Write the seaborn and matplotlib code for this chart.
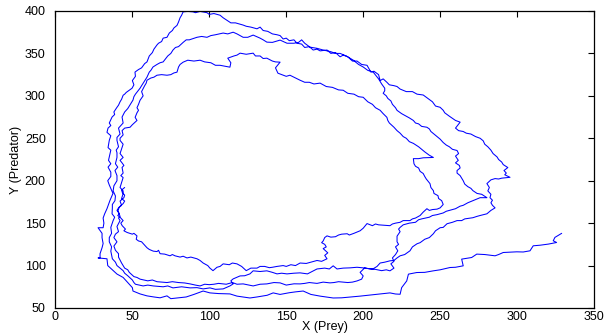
import numpy as np
import pandas as pd
import matplotlib
matplotlib.use("Agg")
import matplotlib.pyplot as plt
import seaborn as sns

start_seg = [(45.0, 192), (43, 189), (43.5, 186), (45, 183), (44.5, 180), (42.0, 176), (43.0, 171), (41.0, 168)]

cycle1 = [
    # bottom (innermost loop)
    (40, 165), (41.5, 161), (40.5, 159), (42, 157), (44, 153), (42.5, 150), (43.4, 147), (45.5, 143), (44.5, 141),
    (46.6, 139), (50, 137), (51, 138), (53, 135), (52.5, 131), (54, 129), (56, 128), (57, 126), (59.5, 121),
    (61, 119), (63.6, 117), (66, 116.5), (67, 118), (68, 114), (71, 113.5), (74.5, 111.5), (76, 113),
    (77.7, 111.5), (81, 110), (83, 111), (85.5, 109), (88, 110), (92, 108), (94, 106), (96, 103), (99, 100),
    (100.4, 97), (102.4, 94), (105, 98), (107, 99), (109, 102), (113, 101), (115, 103), (118, 102), (121, 99),
    (124, 94), (127, 97), (131, 97), (133, 99), (136, 99), (139, 97.5), (141, 98), (144, 99), (148, 100),
    (150, 99), (153, 101), (156, 100), (159, 103), (163, 102.5), (166, 104), (170, 106), (173, 105),
    (176.5, 108), (175, 112), (177, 115), (174, 120), (176, 122), (175, 125), (173, 127), (174, 129), (175, 133),
    (176.5, 135), (179, 133.5), (182, 134), (184, 136), (186, 137), (189.6, 137.5), (191, 136), (194, 138),
    (198, 141), (200, 144), (202.5, 149.5), (206, 147), (208, 149), (210, 148), (214, 147.5), (217.4, 147),
    (219, 149), (221, 150), (224, 151), (226, 153), (230.4, 153), (232, 155), (234, 156), (237, 159), (238, 161),
    (239, 163), (241.4, 167), (243, 165), (245, 166), (248, 166.5), (250, 168), (252, 172),
    # right side
    (251, 176.5), (249, 179), (248.6, 182.4), (246, 185), (245.6, 188.3), (244, 192), (243.4, 196.6), (241, 202),
    (240, 205), (239, 208.5), (237, 211), (236, 215), (234, 217), (233, 220), (232.6, 226), (236, 226),
    (239, 227), (245.6, 227.4), (243, 230), (240, 234), (238, 237), (236, 240), (232.6, 244), (230, 246),
    (228, 250), (226, 252), (224, 256), (222, 259), (220, 263), (217, 268), (216, 271), (215.4, 274.7),
    (213, 279), (211, 283),
    # top
    (208, 286), (206, 290), (203, 293), (200, 298.3), (197, 299), (194, 302), (190, 303), (187, 306.6),
    (184, 307), (180, 310), (176, 311), (172, 315), (168, 314), (165, 316), (162, 316), (159, 318.4), (155, 322),
    (152.4, 324.3), (150, 323), (147, 325), (144.6, 326.7), (143, 333), (146, 339.7), (143, 340), (141, 341),
    (137.4, 344.4), (135, 344), (133, 347), (130, 347), (128.5, 350.3), (124, 349), (120, 350.3), (118, 348),
    (116, 347), (112, 344.4), (114, 339), (113.4, 333.8), (110, 335), (107, 336), (104, 336), (101, 339),
    (97, 340), (94, 342), (90, 341), (86, 342), (83, 339.7), (81, 337), (80, 334), (79, 327.9), (77, 327),
    (75, 325), (72.5, 324.3), (69, 325), (66, 324.3), (64, 322), (62, 321), (59.5, 318.4), (59, 315),
    (58, 312), (56, 305), (57, 300), (55, 294.8), (54, 290), (53, 286), (54, 283), (53, 280), (51.8, 274.7),
    # left side
    (53, 271), (50, 266), (48.5, 263), (45, 262), (43.3, 259), (44, 254), (42, 250), (42, 247.5), (44, 243),
    (43.3, 239), (42, 232), (44, 227.4), (42, 224), (43.3, 221), (44.5, 218), (43.3, 215.6), (44, 209),
    (42.5, 206), (44, 203.7), (43, 198), (42, 192), (44, 188), (44, 184.8), (43, 179), (45, 176), (44, 173),
    (41.5, 169), (40.7, 164.7), (42, 158), (41, 156), (42, 153), (40, 146), (41, 140), (39, 137), (38, 133),
    (40, 128), (38, 123), (39, 118), (41, 114), (41, 110), (43, 103), (45, 97), (47, 95), (48, 92), (51, 87),
    (53, 86), (55, 84), (60, 82), (63, 83), (66, 81), (72.5, 80), (76, 81), (80, 80),
]

cycle2 = [
    # bottom
    (84, 79.5), (87.5, 78.4), (91, 77), (94, 76), (97, 78), (100, 77.5), (103, 78), (106, 79), (111, 78),
    (115, 80), (118, 78), (122, 78.4), (126, 77), (128.5, 76), (133, 78), (137.4, 78.4), (142, 80), (146, 79.6),
    (150, 77), (155, 78.5), (159, 78.4), (162, 79), (165, 80), (170, 79), (174, 80.5), (178.4, 79.6), (181, 80),
    (184, 81), (190, 80), (193, 80.5), (196, 81.9), (199, 84), (200, 87.8), (198, 92), (201, 97.3), (204.4, 96),
    (208, 95.5), (212, 94), (215, 95), (217.4, 93.8), (220, 97), (218, 102), (220, 105), (219, 109), (221, 113),
    (222.5, 117.4), (221, 122), (223, 125), (222, 128), (222, 134.6), (224, 140), (223, 143), (224, 145),
    (226, 148), (230, 150), (234, 151), (236, 154), (238, 155), (243, 157), (245, 159), (248, 160), (252, 162),
    (254, 164), (256, 165), (260, 167), (263, 170), (265, 171), (268, 174), (272, 177), (276, 180), (280.4, 180),
    # right side
    (277, 184), (274, 185), (271.3, 188.3), (270, 191), (268, 193), (266, 196), (265, 200), (264, 203),
    (263, 206), (261, 209), (261, 212), (263, 215), (262.5, 218), (260, 221), (261.8, 224), (260, 229),
    (262, 232), (261, 235.6), (258, 237), (256, 240), (254, 242), (252, 245), (250, 249), (248, 252),
    (246, 255), (244, 258), (243, 261), (241.4, 263), (238, 264), (236, 267), (234, 268), (232.6, 271),
    (230, 274), (228, 276), (225, 279), (222, 282.9), (221, 286), (219, 290), (218, 294), (216, 297),
    (215, 300), (213, 303), (214, 306), (214, 309), (212, 314), (210, 320),
    # top
    (206.5, 328), (203, 330), (200, 334), (197, 337), (193.6, 342), (189, 347), (185, 350), (182, 350),
    (179, 352), (174, 354), (170, 356), (165.4, 357.4), (162, 362), (160, 366), (158, 363), (155, 362),
    (150.5, 362), (146, 365.7), (141, 363), (137.4, 363.3), (135, 366), (133, 368), (128.5, 371.6), (125, 369),
    (122, 369), (118, 373), (115.5, 375), (112, 373), (109, 374), (104, 372), (101, 371), (98.5, 369), (95, 370),
    (92, 369), (87, 366), (85, 366), (83, 363), (80, 358), (78, 357), (76.4, 354), (75, 350), (73, 347),
    (70, 340), (68, 339), (66, 337), (63.4, 334), (62, 330), (61, 328), (59.5, 322), (57, 315), (56, 312),
    (55, 309), (52, 302), (51, 299), (50.4, 295), (47, 285), (45, 281), (43.3, 275), (44, 268), (41, 262),
    # left side
    (42, 255), (40, 251), (40, 247.5), (41, 240), (39.5, 236), (40, 233), (40, 227.4), (39, 220), (40.5, 216),
    (38.7, 212), (40, 206), (40, 200), (38, 194), (37.5, 188), (39, 182), (38.7, 176.5), (37, 172), (37, 168),
    (36.8, 161), (38.5, 157), (37.5, 153), (36, 145), (36.5, 138), (35, 133), (35, 128), (36.5, 122), (36, 117),
    (37, 108), (39, 104), (40, 100), (44, 94), (45, 91), (47, 88), (50, 83), (51, 80), (52, 78), (57, 76),
    (60, 77), (63.6, 76), (70, 75), (73, 76), (76.4, 73.7), (82, 75), (87.5, 73.7),
]

cycle3 = [
    # bottom
    (92, 74), (96, 72.5), (100.4, 73.7), (104, 72), (109, 72.5), (113.4, 76), (115.5, 78.4), (114, 82),
    (115.5, 84.3), (120, 87.8), (123, 88), (126.4, 90.2), (128.5, 93.8), (133, 93), (137.4, 93.8), (141, 92),
    (144, 90.2), (147, 91), (150.5, 90.2), (155, 91), (159, 91.4), (163.8, 90.2), (167.7, 93.8), (170, 96),
    (175, 97), (178, 96), (180.5, 99.7), (183, 96), (187, 97), (191.4, 97.3), (196, 98), (200, 97.3),
    (203, 96.5), (206.3, 96), (209, 99), (211, 103), (214, 104), (217.4, 105.6), (220, 106), (222, 109),
    (224, 111.5), (227, 113), (230.4, 117.4), (232, 122), (235, 125.7), (237, 127), (240, 131), (243, 133),
    (245.6, 137.5), (247, 141), (250, 144.6), (252, 145), (254.5, 149.3), (258, 151), (261, 153), (264, 153),
    (266, 155), (271.3, 156.4), (274, 158), (276, 159), (280.4, 161), (283, 165), (285.7, 168),
    # right side
    (284, 171), (283, 174), (284, 177), (282.4, 180), (283, 184), (281, 188), (282, 192), (280.4, 196.6),
    (283, 201), (285.7, 202.5), (288, 202), (290, 203), (293, 203.5), (295.4, 204), (292, 207), (293, 209),
    (291.5, 212), (294, 215.5), (291, 219), (290, 222), (288, 225), (287, 228), (284.4, 232), (283, 236),
    (281, 240), (279, 243), (278, 247), (276, 250), (273, 252), (270, 255), (267, 256), (265, 258), (262, 259),
    (260, 262), (263, 269), (260, 271), (256, 276), (253, 280), (252, 283), (250, 286.5), (247, 288),
    (245, 293), (242, 297), (239, 301), (235, 302), (232, 305), (228, 305), (224, 308), (222, 311), (220, 312),
    (217, 313), (215.4, 316),
    # top (outermost)
    (213, 320), (211, 318), (210, 325), (207, 329), (205, 328), (202.5, 336), (199, 337), (196, 341),
    (193, 341), (190, 346), (187, 348), (185, 346), (182, 351), (179, 350), (176.5, 354), (172, 353),
    (170, 355), (167.5, 354), (165, 358), (162, 357), (160, 361), (157, 362), (155, 366), (152, 365),
    (150, 368), (148, 367), (146, 371), (144, 372), (141, 373), (138, 376), (135, 377), (133, 381), (131, 379),
    (127, 381), (124, 382), (122, 383.4), (119, 385), (117, 386), (114, 386), (111.5, 389), (109, 392),
    (107, 395), (103, 397), (100, 396), (98.5, 398), (94, 399.5), (91, 398), (89.4, 399), (86, 399.5),
    (83, 399), (82, 395), (81, 392), (80, 387), (79, 383), (77, 380), (76, 377), (74, 374), (72.5, 369),
    (70, 368), (69, 364), (67, 362), (66, 360), (64, 355), (63, 351), (61, 347), (59.5, 340), (58, 338),
    (56, 333), (54, 331), (51.7, 328), (52, 323), (50, 318), (51, 313), (49.8, 309), (46, 304), (45, 302),
    (44, 300.7), (43, 296), (42, 293), (41, 289), (40, 286.5), (38, 281), (38.5, 278), (36.8, 275), (35, 268),
    (36, 265), (34.2, 262), (33.5, 257),
    # left side (leftmost)
    (36, 253), (35, 247.5), (34.2, 239), (36, 236), (35.5, 232), (34.5, 224), (36, 220), (34.2, 216), (36, 210),
    (36, 205), (34, 200), (35, 195), (37.4, 185), (35.5, 177), (34.5, 172), (33.5, 167), (32, 161), (31, 156),
    (31.5, 150), (31, 144.6), (27.7, 144.6), (30.3, 138), (30.3, 132.8), (31, 126), (30.3, 121), (29, 114),
    (29, 109), (27.7, 109), (33.5, 108), (34, 100), (37, 95), (40, 90), (44, 86), (47, 80), (50, 74),
    (50.4, 70), (55, 66.6), (59.5, 64.3), (64, 63), (68, 62),
]

final_seg = [
    (72.5, 64.3), (75, 61), (80, 62), (85, 63), (90, 66), (96, 70), (100.4, 67.8), (106, 67), (113.4, 66.6),
    (118, 64), (122, 63), (126.4, 61.8), (131, 63), (137.6, 65), (141.5, 67.8), (146, 66), (152, 68), (156, 69),
    (161, 70), (166, 66), (172, 64), (176, 63), (180.5, 61.8), (186, 62), (192, 63), (198, 64), (203, 65),
    (208, 66), (213, 67), (217.4, 67.8), (221, 66.5), (224, 66.2), (225, 74), (228.3, 81.9), (229.4, 89.9),
    (234.8, 91.8), (240, 92), (245.6, 93.8), (250, 95), (256.4, 97.7), (260, 98), (265, 99.7), (264, 107.6),
    (270.5, 109.5), (273.8, 113.5), (279, 113), (285.7, 111.5), (288, 113), (291, 115.4), (299.8, 116.2),
    (304, 116), (308.4, 117.4), (310.5, 123.3), (315, 124), (320.3, 125.3), (325.7, 127.2), (323.5, 129.2),
    (324.6, 133.2), (329, 138),
]

x_ticks = [0, 50, 100, 150, 200, 250, 300, 350]
y_ticks = [50, 100, 150, 200, 250, 300, 350, 400]

# ---- build table ----
pts = start_seg + cycle1 + cycle2 + cycle3 + final_seg
df = pd.DataFrame(pts, columns=["prey", "predator"])
df["step"] = np.arange(len(df))

sns.set_theme(style="white")
plt.rcParams["font.family"] = ["Liberation Sans", "DejaVu Sans"]

fig = plt.figure(figsize=(6.07, 3.35), dpi=100)
fig.patch.set_facecolor("white")
ax = fig.add_axes([0.0913, 0.0806, 0.8873, 0.8866])
sns.lineplot(data=df, x="prey", y="predator", sort=False, estimator=None,
             color="#0000ff", linewidth=0.75, ax=ax)

ax.set_xlim(0, 350)
ax.set_ylim(50, 400)
ax.set_xticks(x_ticks)
ax.set_yticks(y_ticks)
ax.tick_params(axis="both", direction="in", length=4, width=0.8, top=True, right=True,
               labelsize=9, colors="black")
ax.tick_params(axis="x", pad=2.5)
ax.tick_params(axis="y", pad=7)
for s in ax.spines.values():
    s.set_visible(True)
    s.set_color("black")
    s.set_linewidth(0.9)
ax.set_xlabel("X (Prey)", fontsize=9, color="black")
ax.set_ylabel("Y (Predator)", fontsize=9, color="black")
ax.xaxis.set_label_coords(0.5, -0.045)
ax.yaxis.set_label_coords(-0.062, 0.5)
ax.grid(False)

fig.savefig("out.png", dpi=100, facecolor="white")
